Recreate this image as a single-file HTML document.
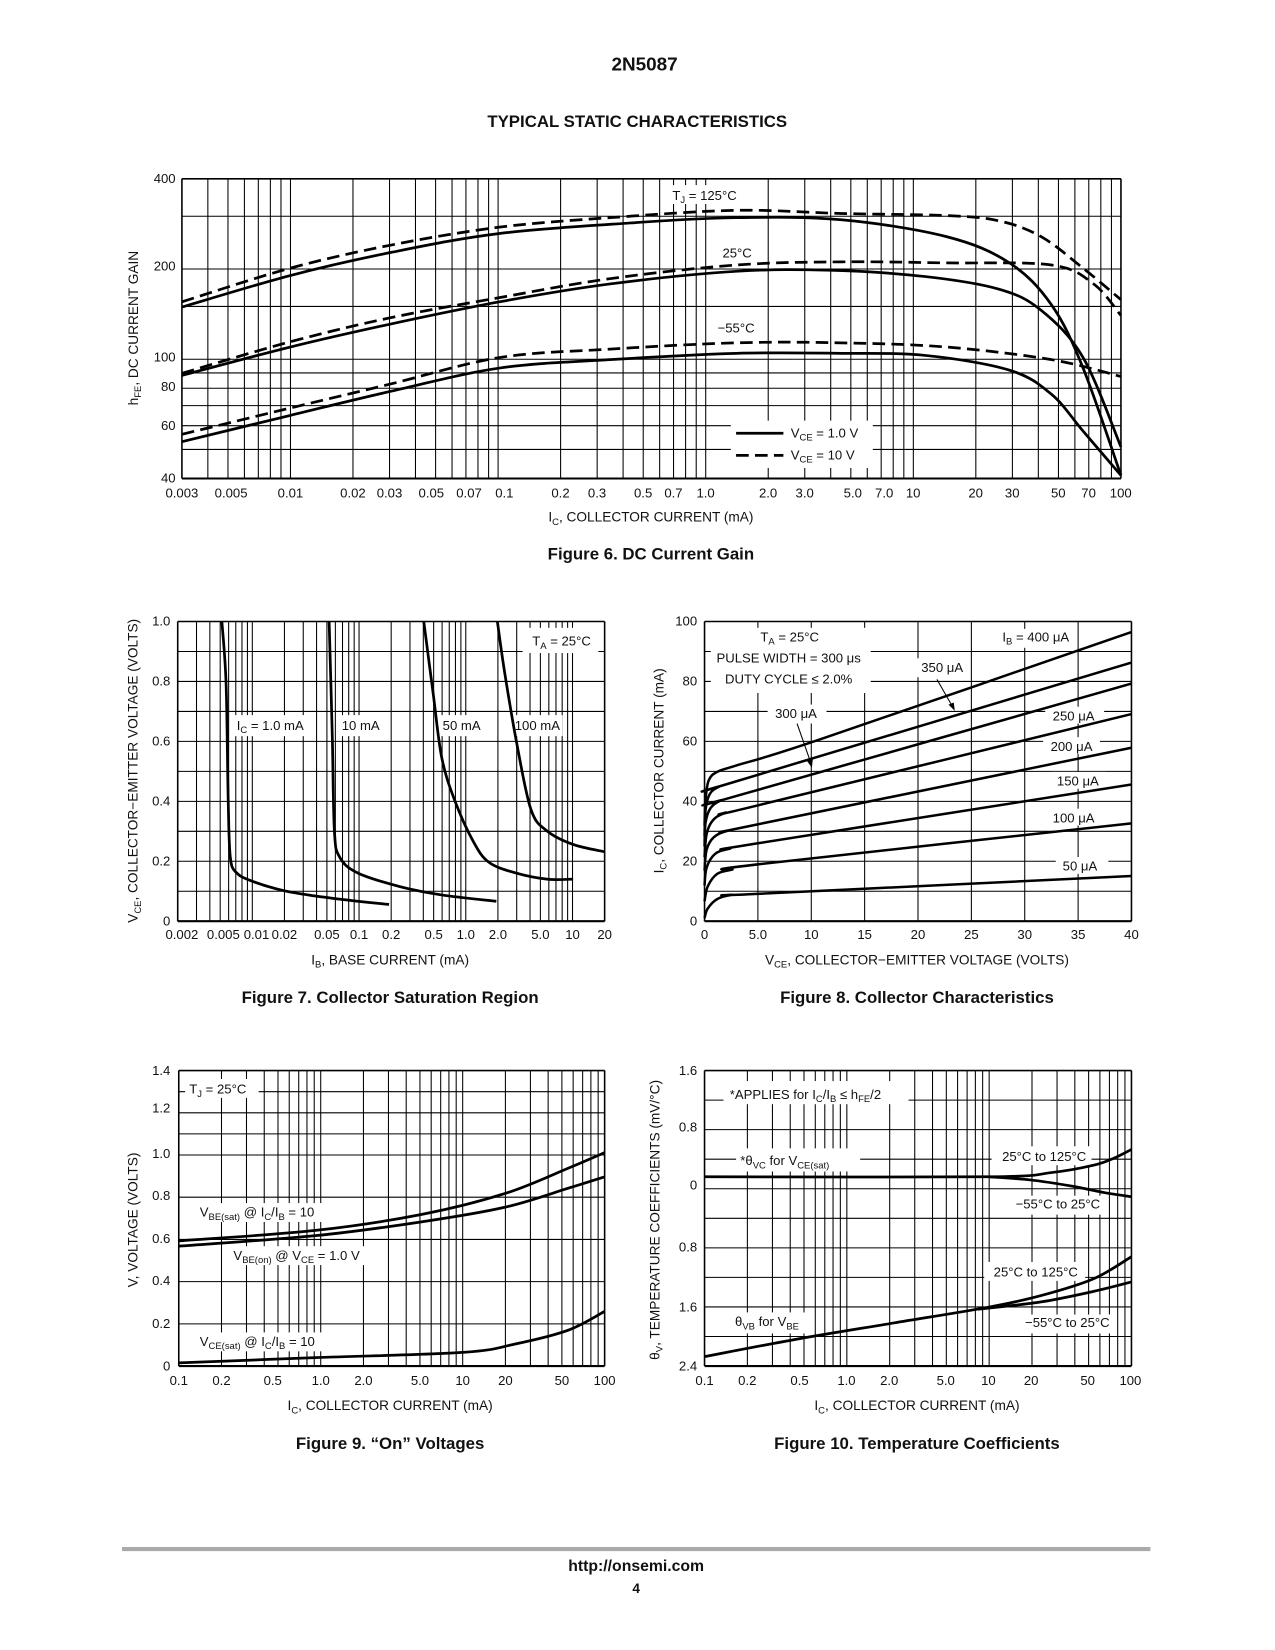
<!DOCTYPE html>
<html><head><meta charset="utf-8"><style>
html,body{margin:0;padding:0;background:#fff;width:1275px;height:1650px;overflow:hidden}
svg{display:block}
text{font-family:"Liberation Sans",Arial,sans-serif;fill:#111}
</style></head><body>
<svg id="s" width="1275" height="1650" viewBox="0 0 1212.5 1569" preserveAspectRatio="none" xmlns="http://www.w3.org/2000/svg">
<text x="613" y="67" font-size="18" font-weight="bold" text-anchor="middle">2N5087</text>
<text x="606" y="121" font-size="16" font-weight="bold" text-anchor="middle">TYPICAL STATIC CHARACTERISTICS</text>
<text x="619" y="532" font-size="16" font-weight="bold" text-anchor="middle">Figure 6. DC Current Gain</text>
<text x="371" y="954" font-size="16" font-weight="bold" text-anchor="middle">Figure 7. Collector Saturation Region</text>
<text x="872" y="954" font-size="16" font-weight="bold" text-anchor="middle">Figure 8. Collector Characteristics</text>
<text x="371" y="1378" font-size="16" font-weight="bold" text-anchor="middle">Figure 9. “On” Voltages</text>
<text x="872" y="1378" font-size="16" font-weight="bold" text-anchor="middle">Figure 10. Temperature Coefficients</text>
<line x1="116" y1="1473" x2="1094" y2="1473" stroke="#aaa" stroke-width="4"/>
<text x="605" y="1494" font-size="15" font-weight="bold" text-anchor="middle">http://onsemi.com</text>
<text x="605" y="1515" font-size="13" font-weight="bold" text-anchor="middle">4</text>
<g id="g"></g>
</svg>
<script>
var out='';
function L(x1,y1,x2,y2,w){out+='<line x1="'+x1+'" y1="'+y1+'" x2="'+x2+'" y2="'+y2+'" stroke="#000" stroke-width="'+(w||1)+'"/>';}
function T(x,y,s,o){o=o||{};out+='<text x="'+x+'" y="'+y+'" font-size="'+(o.fs||12.5)+'" text-anchor="'+(o.a||'middle')+'"'+(o.r?' transform="rotate(-90 '+x+' '+y+')"':'')+'>'+s+'</text>';}
function R(x,y,w,h){out+='<rect x="'+x+'" y="'+y+'" width="'+w+'" height="'+h+'" fill="#fff"/>';}
function P(pts,dash,w){var d='M'+pts[0][0]+','+pts[0][1];
 for(var i=0;i<pts.length-1;i++){var p0=pts[i-1]||pts[i],p1=pts[i],p2=pts[i+1],p3=pts[i+2]||p2;
 d+=' C'+(p1[0]+(p2[0]-p0[0])/6)+','+(p1[1]+(p2[1]-p0[1])/6)+' '+(p2[0]-(p3[0]-p1[0])/6)+','+(p2[1]-(p3[1]-p1[1])/6)+' '+p2[0]+','+p2[1];}
 out+='<path d="'+d+'" fill="none" stroke="#000" stroke-width="'+(w||2.6)+'"'+(dash?' stroke-dasharray="12,6"':'')+'/>';}
function logV(x0,x1,y0,y1,lo,hi){var k=(x1-x0)/Math.log10(hi/lo);
 for(var e=-4;e<3;e++)for(var m=1;m<10;m++){var v=m*Math.pow(10,e);if(v>lo*1.0001&&v<hi*0.9999){var x=x0+k*Math.log10(v/lo);L(x,y0,x,y1);}}}
// Fig 6
(function(){var x0=173,x1=1066,y0=170,y1=455;
logV(x0,x1,y0,y1,0.003,100);
[300,200,150,100,90,80,70,60,50].forEach(function(v){var y=y1-285*Math.log10(v/40);L(x0,y,x1,y);});
R(695,400,135,45);R(632,176,76,18);R(680,231,42,18);R(676,302,48,18);
L(x0,y0,x1,y0,1.5);L(x0,y1,x1,y1,2);L(x0,y0,x0,y1,1.5);L(x1,y0,x1,y1,1.5);
P([[173,292],[276,262],[372,240],[475,222],[600,212],[700,207],[800,209],[900,225],[960,250],[1000,290],[1030,350],[1066,452]]);
P([[173,287],[276,255],[372,233],[475,216],[580,207],[700,200],[800,203],[900,205],[950,210],[990,225],[1030,255],[1066,285]],1);
P([[173,357],[276,330],[372,308],[475,287],[580,270],[700,258],[790,257],[880,263],[950,275],[990,295],[1030,340],[1066,425]]);
P([[173,355],[276,325],[372,302],[475,283],[580,265],[700,252],[800,249],[900,250],[1000,252],[1040,270],[1066,300]],1);
P([[173,420],[276,395],[372,372],[475,350],[580,342],[700,336],[800,336],[880,338],[960,352],[1000,375],[1030,410],[1066,452]]);
P([[173,413],[276,388],[372,365],[475,340],[580,332],[700,326],[800,326],[900,330],[1000,342],[1066,358]],1);
L(700,412,745,412,2.6);out+='<line x1="700" y1="433" x2="745" y2="433" stroke="#000" stroke-width="2.6" stroke-dasharray="12,6"/>';
T(752,416,'V<tspan font-size="9" dy="3">CE</tspan><tspan dy="-3"> = 1.0 V</tspan>',{a:'start'});
T(752,437,'V<tspan font-size="9" dy="3">CE</tspan><tspan dy="-3"> = 10 V</tspan>',{a:'start'});
T(670,190,'T<tspan font-size="9" dy="3">J</tspan><tspan dy="-3"> = 125°C</tspan>');T(701,245,'25°C');T(700,316,'−55°C');
[['400',174],['200',257],['100',344],['80',372],['60',409],['40',459]].forEach(function(a){T(167,a[1],a[0],{a:'end'});});
var lab=[['0.003',0.003],['0.005',0.005],['0.01',0.01],['0.02',0.02],['0.03',0.03],['0.05',0.05],['0.07',0.07],['0.1',0.1],['0.2',0.2],['0.3',0.3],['0.5',0.5],['0.7',0.7],['1.0',1],['2.0',2],['3.0',3],['5.0',5],['7.0',7],['10',10],['20',20],['30',30],['50',50],['70',70],['100',100]];
var off={'0.005':3,'0.05':-4,'0.07':3,'0.1':6,'5.0':2,'7.0':3};
lab.forEach(function(a){var x=x0+197.4*Math.log10(a[1]/0.003)+(off[a[0]]||0);T(x,473,a[0]);});
T(619,496,'I<tspan font-size="9" dy="3">C</tspan><tspan dy="-3">, COLLECTOR CURRENT (mA)</tspan>',{fs:13});
T(131,312,'h<tspan font-size="9" dy="3">FE</tspan><tspan dy="-3">, DC CURRENT GAIN</tspan>',{fs:13,r:1});
})();
// Fig 7
(function(){var x0=169,x1=575,y0=591,y1=876;
logV(x0,x1,y0,y1,0.002,20);
for(var i=1;i<10;i++){var y=y1-28.5*i;L(x0,y,x1,y);}
R(497,597,72,24);R(220,680,72,20);R(321,680,44,20);R(418,680,42,20);R(487,680,48,20);
L(x0,y0,x1,y0,1.5);L(x0,y1,x1,y1,2);L(x0,y0,x0,y1,1.5);L(x1,y0,x1,y1,1.5);
P([[211,591],[215,650],[217,760],[219,815],[225,830],[240,838],[270,847],[300,852],[340,857],[370,860]]);
P([[313,591],[316,700],[318,790],[323,815],[340,830],[380,843],[420,851],[472,857]]);
P([[403,591],[412,660],[420,720],[432,760],[450,800],[465,820],[490,830],[520,836],[545,836]]);
P([[473,591],[480,640],[492,710],[505,770],[520,790],[545,803],[575,810]]);
T(534,614,'T<tspan font-size="9" dy="3">A</tspan><tspan dy="-3"> = 25°C</tspan>');
T(257,694,'I<tspan font-size="9" dy="3">C</tspan><tspan dy="-3"> = 1.0 mA</tspan>');T(343,694,'10 mA');T(439,694,'50 mA');T(511,694,'100 mA');
[['1.0',595],['0.8',652],['0.6',709],['0.4',766],['0.2',823],['0',880]].forEach(function(a){T(162,a[1],a[0],{a:'end'});});
[['0.002',.002],['0.005',.005],['0.01',.01],['0.02',.02],['0.05',.05],['0.1',.1],['0.2',.2],['0.5',.5],['1.0',1],['2.0',2],['5.0',5],['10',10],['20',20]].forEach(function(a){var x=x0+101.5*Math.log10(a[1]/0.002);if(a[0]=='0.002')x+=4;if(a[0]=='0.005')x+=3;if(a[0]=='0.01')x+=4;T(x,893,a[0]);});
T(371,917,'I<tspan font-size="9" dy="3">B</tspan><tspan dy="-3">, BASE CURRENT (mA)</tspan>',{fs:13});
T(131,733,'V<tspan font-size="9" dy="3">CE</tspan><tspan dy="-3">, COLLECTOR−EMITTER VOLTAGE (VOLTS)</tspan>',{fs:13,r:1});
})();
// Fig 8
(function(){var x0=670,x1=1076,y0=591,y1=876;
for(var i=1;i<8;i++){var x=x0+50.75*i;L(x,y0,x,y1);}
for(var i=1;i<10;i++){var y=y1-28.5*i;L(x0,y,x1,y);}
R(676,597,152,62);R(946,598,78,18);R(870,626,52,18);R(730,670,56,18);R(994,672,56,16);R(992,701,54,16);R(1000,734,52,16);R(996,769,54,16);R(1004,815,50,16);
L(x0,y0,x1,y0,1.5);L(x0,y1,x1,y1,2);L(x0,y0,x0,y1,1.5);L(x1,y0,x1,y1,1.5);
var C=[[[670,785],[671,760],[674,742],[682,734],[700,728],[780,703],[1076,601]],
[[670,795],[671,770],[675,755],[684,748],[700,743],[1076,630]],
[[670,805],[671,782],[676,768],[686,761],[700,757],[1076,650]],
[[670,815],[672,793],[678,780],[690,773],[720,766],[1076,679]],
[[670,828],[672,808],[679,796],[692,790],[720,784],[1076,711]],
[[670,842],[672,825],[680,812],[694,807],[720,802],[1076,746]],
[[670,857],[673,843],[682,831],[696,827],[720,822],[1076,783]],
[[670,873],[673,864],[682,855],[696,851],[720,850],[1076,833]]];
C.forEach(function(c){P(c,0,2.4);});
out+='<line x1="758" y1="688" x2="772" y2="728" stroke="#000" stroke-width="1"/><path d="M772,730 l-5,-7 l6,-1z"/>';
out+='<line x1="891" y1="646" x2="907" y2="674" stroke="#000" stroke-width="1"/><path d="M908,676 l-6,-6 l5,-2z"/>';
T(751,610,'T<tspan font-size="9" dy="3">A</tspan><tspan dy="-3"> = 25°C</tspan>');T(750,630,'PULSE WIDTH = 300 μs');T(750,650,'DUTY CYCLE ≤ 2.0%');
T(985,610,'I<tspan font-size="9" dy="3">B</tspan><tspan dy="-3"> = 400 μA</tspan>');T(896,639,'350 μA');T(757,683,'300 μA');T(1021,685,'250 μA');T(1019,714,'200 μA');T(1025,747,'150 μA');T(1021,782,'100 μA');T(1027,828,'50 μA');
[['100',595],['80',652],['60',709],['40',766],['20',823],['0',880]].forEach(function(a){T(663,a[1],a[0],{a:'end'});});
[['0',0],['5.0',5],['10',10],['15',15],['20',20],['25',25],['30',30],['35',35],['40',40]].forEach(function(a){T(x0+10.15*a[1],893,a[0]);});
T(872,917,'V<tspan font-size="9" dy="3">CE</tspan><tspan dy="-3">, COLLECTOR−EMITTER VOLTAGE (VOLTS)</tspan>',{fs:13});
T(631,733,'I<tspan font-size="9" dy="3">C</tspan><tspan dy="-3">, COLLECTOR CURRENT (mA)</tspan>',{fs:13,r:1});
})();
// Fig 9
(function(){var x0=170,x1=575,y0=1018,y1=1299;
logV(x0,x1,y0,y1,0.1,100);
for(var i=1;i<14;i++){var y=y1-20.07*i;if(i%2==0||i>9)L(x0,y,x1,y);}
R(176,1026,70,18);R(186,1144,130,18);R(218,1185,140,18);R(186,1267,140,18);
L(x0,y0,x1,y0,1.5);L(x0,y1,x1,y1,2);L(x0,y0,x0,y1,1.5);L(x1,y0,x1,y1,1.5);
P([[170,1180],[300,1170],[400,1155],[480,1135],[540,1111],[575,1096]]);
P([[170,1185],[300,1175],[400,1162],[480,1148],[540,1130],[575,1119]]);
P([[170,1296],[300,1291],[440,1286],[490,1278],[540,1265],[575,1247]]);
T(180,1040,'T<tspan font-size="9" dy="3">J</tspan><tspan dy="-3"> = 25°C</tspan>',{a:'start'});
T(190,1157,'V<tspan font-size="9" dy="3">BE(sat)</tspan><tspan dy="-3"> @ I</tspan><tspan font-size="9" dy="3">C</tspan><tspan dy="-3">/I</tspan><tspan font-size="9" dy="3">B</tspan><tspan dy="-3"> = 10</tspan>',{a:'start'});
T(222,1198,'V<tspan font-size="9" dy="3">BE(on)</tspan><tspan dy="-3"> @ V</tspan><tspan font-size="9" dy="3">CE</tspan><tspan dy="-3"> = 1.0 V</tspan>',{a:'start'});
T(190,1280,'V<tspan font-size="9" dy="3">CE(sat)</tspan><tspan dy="-3"> @ I</tspan><tspan font-size="9" dy="3">C</tspan><tspan dy="-3">/I</tspan><tspan font-size="9" dy="3">B</tspan><tspan dy="-3"> = 10</tspan>',{a:'start'});
[['1.4',1022],['1.2',1058],['1.0',1101],['0.8',1141],['0.6',1182],['0.4',1222],['0.2',1263],['0',1303]].forEach(function(a){T(162,a[1],a[0],{a:'end'});});
[['0.1',.1],['0.2',.2],['0.5',.5],['1.0',1],['2.0',2],['5.0',5],['10',10],['20',20],['50',50],['100',100]].forEach(function(a){T(x0+135*Math.log10(a[1]/0.1)+(a[0]=='0.5'?-5:0),1317,a[0]);});
T(371,1341,'I<tspan font-size="9" dy="3">C</tspan><tspan dy="-3">, COLLECTOR CURRENT (mA)</tspan>',{fs:13});
T(131,1160,'V, VOLTAGE (VOLTS)',{fs:13,r:1});
})();
// Fig 10
(function(){var x0=670,x1=1076,y0=1018,y1=1299;
logV(x0,x1,y0,y1,0.1,100);
for(var i=1;i<10;i++){var y=y0+28.1*i;L(x0,y,x1,y);}
R(688,1028,176,22);R(700,1092,118,22);R(943,1090,95,18);R(955,1137,95,18);R(936,1200,96,18);R(966,1250,96,18);R(695,1248,75,20);
L(x0,y0,x1,y0,1.5);L(x0,y1,x1,y1,2);L(x0,y0,x0,y1,1.5);L(x1,y0,x1,y1,1.5);
P([[670,1119],[940,1119],[1000,1115],[1040,1108],[1060,1101],[1076,1093]]);
P([[940,1119],[980,1122],[1020,1128],[1050,1134],[1076,1138]]);
P([[670,1290],[760,1273],[850,1258],[940,1243],[990,1232],[1040,1216],[1076,1195]]);
P([[930,1245],[990,1238],[1040,1228],[1076,1219]]);
T(694,1045,'*APPLIES for I<tspan font-size="9" dy="3">C</tspan><tspan dy="-3">/I</tspan><tspan font-size="9" dy="3">B</tspan><tspan dy="-3"> ≤ h</tspan><tspan font-size="9" dy="3">FE</tspan><tspan dy="-3">/2</tspan>',{a:'start'});
T(704,1108,'*θ<tspan font-size="9" dy="3">VC</tspan><tspan dy="-3"> for V</tspan><tspan font-size="9" dy="3">CE(sat)</tspan>',{a:'start'});
T(993,1104,'25°C to 125°C');T(1006,1149,'−55°C to 25°C');T(985,1214,'25°C to 125°C');T(1015,1262,'−55°C to 25°C');
T(699,1261,'θ<tspan font-size="9" dy="3">VB</tspan><tspan dy="-3"> for V</tspan><tspan font-size="9" dy="3">BE</tspan>',{a:'start'});
[['1.6',1022],['0.8',1076],['0',1131],['0.8',1190],['1.6',1247],['2.4',1303]].forEach(function(a){T(663,a[1],a[0],{a:'end'});});
[['0.1',.1],['0.2',.2],['0.5',.5],['1.0',1],['2.0',2],['5.0',5],['10',10],['20',20],['50',50],['100',100]].forEach(function(a){T(x0+135*Math.log10(a[1]/0.1)+(a[0]=='0.5'?-4:0),1317,a[0]);});
T(872,1341,'I<tspan font-size="9" dy="3">C</tspan><tspan dy="-3">, COLLECTOR CURRENT (mA)</tspan>',{fs:13});
T(627,1160,'θ<tspan font-size="9" dy="3">V</tspan><tspan dy="-3">, TEMPERATURE COEFFICIENTS (mV/°C)</tspan>',{fs:13,r:1});
})();
document.getElementById('g').innerHTML=out;
</script>
</body></html>
